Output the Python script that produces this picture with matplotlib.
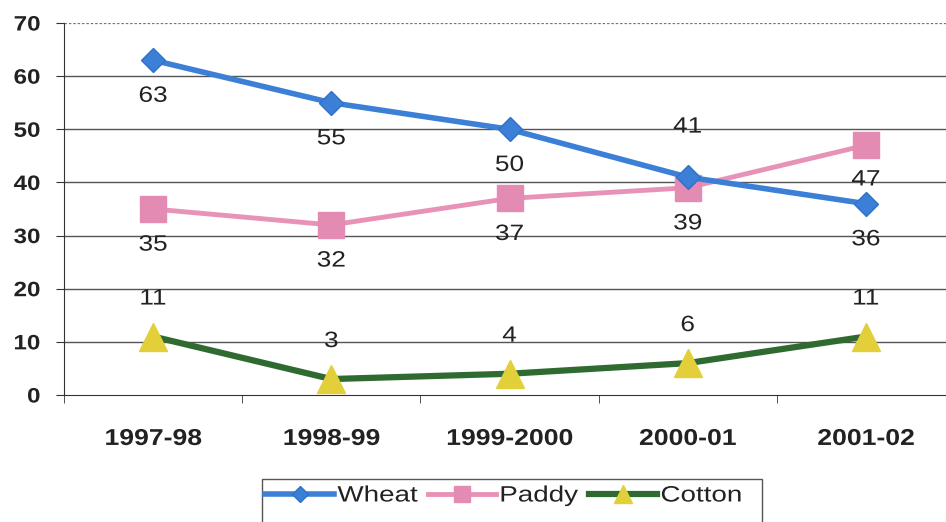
import matplotlib
matplotlib.use("Agg")
import matplotlib.pyplot as plt
from matplotlib.patches import Rectangle
from matplotlib.patheffects import AbstractPathEffect
from matplotlib.transforms import Affine2D

years = ["1997-98", "1998-99", "1999-2000", "2000-01", "2001-02"]
wheat = [63, 55, 50, 41, 36]
paddy = [35, 32, 37, 39, 47]
cotton = [11, 3, 4, 6, 11]

# label placement per point: offset in points (positive = above)
wheat_off = [-26, -26, -26, 36, -26]
paddy_off = [-26, -26, -26, -26, -25]
cotton_off = [27, 27, 27, 27, 27]


class Widen(AbstractPathEffect):
    """Draw text glyphs stretched horizontally about an anchor fraction of the text width."""

    def __init__(self, sx=1.18, anchor=0.5):
        super().__init__()
        self.sx = sx
        self.anchor = anchor

    def draw_path(self, renderer, gc, tpath, affine, rgbFace=None):
        ext = tpath.get_extents()
        x0 = ext.x0 + self.anchor * ext.width
        t = Affine2D().translate(-x0, 0).scale(self.sx, 1).translate(x0, 0) + affine
        renderer.draw_path(gc, tpath, t, rgbFace)


plt.rcParams["font.family"] = ["Liberation Sans", "DejaVu Sans"]

fig = plt.figure(figsize=(9.46, 5.22), dpi=100)
ax = fig.add_axes([64 / 946, 1 - 395 / 522, (955 - 64) / 946, (395 - 23) / 522])

x = list(range(len(years)))
ax.plot(x, paddy, color="#e892b8", lw=3.5, marker="s", ms=19,
        mfc="#e48bb4", mec="#e48bb4", label="Paddy", zorder=3)
ax.plot(x, wheat, color="#3b7fd6", lw=4, marker="D", ms=12.5,
        mfc="#3b7fd6", mec="#2f72c8", label="Wheat", zorder=4)
ax.plot(x, cotton, color="#2f6a30", lw=4.5, marker="^", ms=20,
        mfc="#e2cf3a", mec="#e2cf3a", label="Cotton", zorder=3)

for series, offs in ((wheat, wheat_off), (paddy, paddy_off), (cotton, cotton_off)):
    for xi, v, o in zip(x, series, offs):
        t = ax.annotate(f"{v}", (xi, v), xytext=(0, o), textcoords="offset points",
                        ha="center", va="center", fontsize=16, color="#222222", zorder=6)
        t.set_path_effects([Widen(1.18, 0.5)])

ax.set_xlim(-0.5, 4.5)
ax.set_ylim(0, 70)
ax.set_yticks(range(0, 71, 10))
ax.set_xticks(x)
ax.set_xticklabels(years)
ax.set_xticks([i + 0.5 for i in range(-1, 5)], minor=True)

for y in range(10, 70, 10):
    ax.axhline(y, color="#555555", lw=1.0, zorder=1)
ax.axhline(70, color="#777777", lw=0.9, ls=(0, (2, 1.5)), zorder=1)

for side in ("top", "right"):
    ax.spines[side].set_visible(False)
ax.spines["left"].set_color("#333333")
ax.spines["bottom"].set_color("#333333")

ax.tick_params(axis="y", length=6, color="#333333", labelsize=15, pad=11)
ax.tick_params(axis="x", which="major", length=0, labelsize=16.5, pad=23)
ax.tick_params(axis="x", which="minor", length=6, color="#333333")
for lbl in ax.get_xticklabels():
    lbl.set_fontweight("bold")
    lbl.set_color("#222222")
    lbl.set_path_effects([Widen(1.16, 0.5)])
for lbl in ax.get_yticklabels():
    lbl.set_fontweight("bold")
    lbl.set_color("#222222")
    lbl.set_path_effects([Widen(1.16, 1.0)])

handles, labels = ax.get_legend_handles_labels()
order = [1, 0, 2]
leg = fig.legend([handles[i] for i in order], [labels[i] for i in order],
                 loc="center left", bbox_to_anchor=(263 / 946, 1 - 496 / 522), ncol=3,
                 fontsize=16, frameon=False, handlelength=3.1, handletextpad=0.15,
                 columnspacing=1.15, borderpad=0.1, borderaxespad=0, markerscale=0.62)
for txt in leg.get_texts():
    txt.set_color("#222222")
    txt.set_path_effects([Widen(1.25, 0.0)])

# legend frame, running off the lower edge
fig.patches.append(Rectangle((262 / 946, -0.05), (762 - 262) / 946, 0.05 + (1 - 479 / 522),
                             transform=fig.transFigure, fill=False,
                             edgecolor="#555555", linewidth=1.0))

fig.savefig("out.png", dpi=100)
